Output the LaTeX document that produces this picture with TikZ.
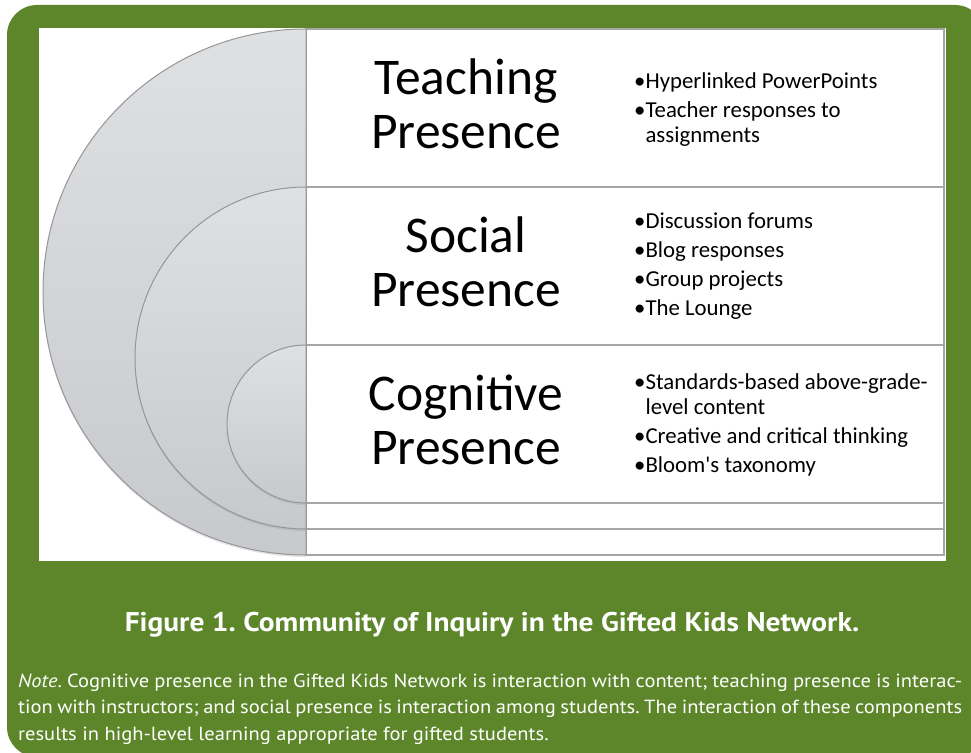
\documentclass[tikz,border=0pt]{standalone}
\usepackage{fontspec}
\setmainfont{Carlito}[Ligatures=TeXOff]
\newfontfamily\capfont[FakeStretch=1.09]{PT Sans}
\newfontfamily\notefont[FakeStretch=1.08]{PT Sans}
\usetikzlibrary{shadows}
\definecolor{framegreen}{RGB}{92,134,41}
\definecolor{rulegray}{RGB}{166,166,169}
\definecolor{ringtop}{RGB}{223,224,226}
\definecolor{ringbottom}{RGB}{200,201,205}
\definecolor{ringline}{RGB}{150,150,154}
\frenchspacing
\begin{document}
\begin{tikzpicture}[x=1pt, y=-1pt,
    band/.style={draw=rulegray, line width=1.5pt, fill=white},
    ring/.style={draw=ringline, line width=1pt, top color=ringtop, bottom color=ringbottom,
        drop shadow={shadow xshift=0pt, shadow yshift=-2pt, opacity=0.2}},
    head/.style={align=center, anchor=base, inner sep=0pt, font=\fontsize{51.5}{54}\selectfont},
    items/.style={align=left, anchor=base west, inner sep=0pt, font=\fontsize{22.8}{24.5}\selectfont}]
    \useasboundingbox (0,0) rectangle (971,752);

    \fill[framegreen, rounded corners=30pt] (7,5) rectangle (985,757);
    \fill[white] (39,28) rectangle (946,561);

    \draw[band] (306,29) rectangle (944,555);
    \draw[band] (306,187) rectangle (944,529);
    \draw[band] (306,345) rectangle (944,503);

    \draw[ring] (306,29) arc[start angle=90, end angle=270, radius=263pt] -- cycle;
    \draw[ring] (306,187) arc[start angle=90, end angle=270, radius=171pt] -- cycle;
    \draw[ring] (306,345) arc[start angle=90, end angle=270, radius=79pt] -- cycle;

    \node[head] (teaching) at (466,148) {Teaching\\Presence};
    \node[head] (social) at (466,306) {Social\\Presence};
    \node[head] (cognitive) at (466,464) {Cognitive\\Presence};

    \node[items] (teachlist) at (634,142) {•Hyperlinked PowerPoints\\[4.5pt]•Teacher responses to\\\phantom{•}assignments};
    \node[items] (sociallist) at (634,315) {•Discussion forums\\[4.5pt]•Blog responses\\[4.5pt]•Group projects\\[4.5pt]•The Lounge};
    \node[items] (cognitivelist) at (634,472) {•Standards-based above-grade-\\\phantom{•}level content\\[4.5pt]•Creative and critical thinking\\[4.5pt]•Bloom's taxonomy};

    \node[text=white, anchor=base, inner sep=0pt, font=\capfont\bfseries\fontsize{27}{30}\selectfont] (caption) at (492,631) {Figure 1. Community of Inquiry in the Gifted Kids Network.};
    \node[text=white, align=left, anchor=base west, inner sep=0pt, font=\notefont\fontsize{19}{26.5}\selectfont] (note) at (18,740) {\makebox[944pt][s]{\textit{Note}. Cognitive presence in the Gifted Kids Network is interaction with content; teaching presence is interac-}\\\makebox[944pt][s]{tion with instructors; and social presence is interaction among students. The interaction of these components}\\results in high-level learning appropriate for gifted students.};
\end{tikzpicture}
\end{document}
